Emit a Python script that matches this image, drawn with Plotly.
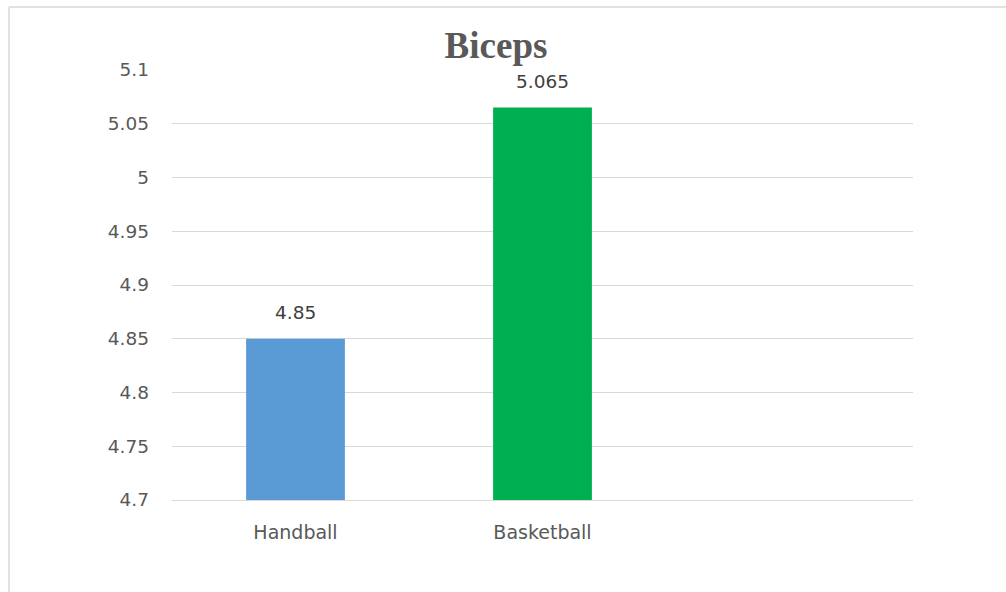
import plotly.graph_objects as go

categories = ["Handball", "Basketball"]
values = [4.85, 5.065]
value_labels = ["4.85", "5.065"]
bar_colors = ["#5B9BD5", "#00B050"]
tick_vals = [4.7, 4.75, 4.8, 4.85, 4.9, 4.95, 5.0, 5.05, 5.1]
tick_text = ["4.7", "4.75", "4.8", "4.85", "4.9", "4.95", "5", "5.05", "5.1"]
title_text = "Biceps"

FONT = "DejaVu Sans, sans-serif"

fig = go.Figure()
fig.add_trace(go.Bar(
    x=categories, y=values, marker_color=bar_colors, marker_line_width=0,
    showlegend=False, hoverinfo="x+y",
))

for c, v, t in zip(categories, values, value_labels):
    fig.add_annotation(x=c, y=v, text=t, showarrow=False, yshift=26,
                       font=dict(family=FONT, size=18.5, color="#404040"))

W, H = 1006, 592
L, R, T, B = 172, 93, 70, 92
pw, ph = W - L - R, H - T - B

def px_x(p):
    return (p - L) / pw

def px_y(p):
    return (H - B - p) / ph

# chart border (top and left visible)
fig.add_shape(type="line", xref="paper", yref="paper",
              x0=px_x(9), x1=px_x(1010), y0=px_y(7), y1=px_y(7),
              line=dict(color="#D9D9D9", width=1.5))
fig.add_shape(type="line", xref="paper", yref="paper",
              x0=px_x(9), x1=px_x(9), y0=px_y(7), y1=px_y(600),
              line=dict(color="#D9D9D9", width=1.5))

fig.update_layout(
    width=W, height=H,
    margin=dict(l=L, r=R, t=T, b=B),
    paper_bgcolor="white", plot_bgcolor="white",
    bargap=0.6,
    title=dict(text="<b>" + title_text + "</b>", xref="container", x=496 / W, xanchor="center",
               yref="container", y=1 - 45 / H, yanchor="middle",
               font=dict(family="Liberation Serif, Times New Roman, serif", size=37, color="#595959")),
    xaxis=dict(type="category", categoryorder="array", categoryarray=categories,
               range=[-0.5, 2.5], showgrid=False, zeroline=False,
               showline=True, linecolor="#D9D9D9", linewidth=1,
               ticks="", tickfont=dict(family=FONT, size=19, color="#595959"),
               ticklabelstandoff=15),
    yaxis=dict(range=[4.7, 5.1], tickvals=tick_vals, ticktext=tick_text,
               showgrid=True, gridcolor="#D9D9D9", gridwidth=1,
               zeroline=False, showline=False, ticks="",
               tickfont=dict(family=FONT, size=18.5, color="#595959"),
               ticklabelstandoff=22),
    font=dict(family=FONT),
)

fig.write_html("out.html")
